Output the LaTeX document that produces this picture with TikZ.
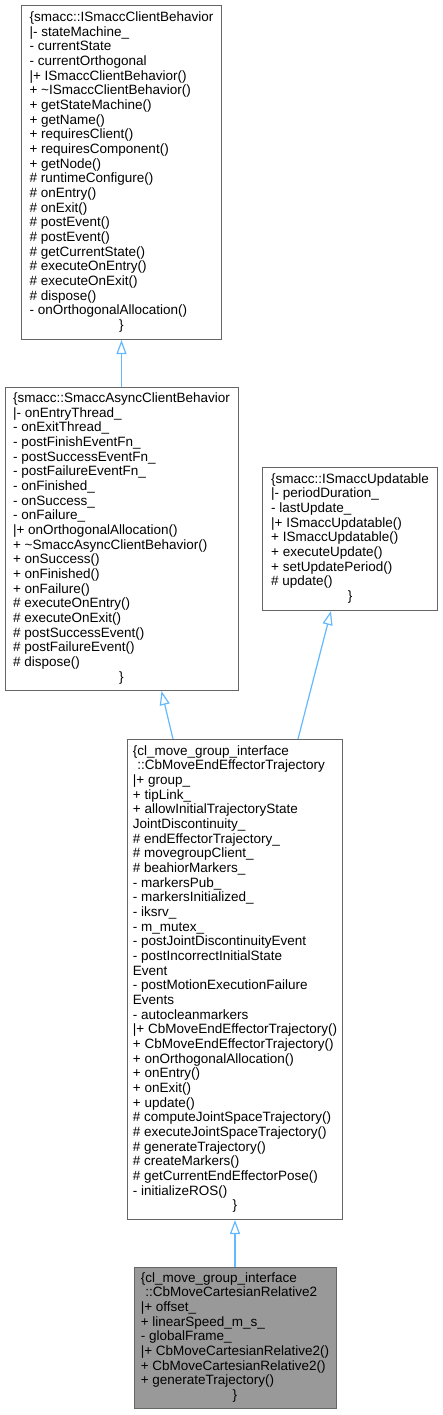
\documentclass[tikz,border=0pt]{standalone}
\usepackage{fontspec}
\setmainfont{Liberation Sans}
\usetikzlibrary{arrows.meta, positioning, calc}
\definecolor{edgegray}{HTML}{666666}
\definecolor{inherblue}{HTML}{63B8FF}
\definecolor{focusgray}{HTML}{999999}

% class member list, closing brace centred under it
\newcommand{\memberlist}[1]{\begin{tabular}{@{}l@{}}#1\\\multicolumn{1}{@{}c@{}}{\}}\end{tabular}}

\begin{document}
\begin{tikzpicture}[x=1pt, y=-1pt,
  every node/.style={font=\fontsize{13.5}{14.67}\selectfont},
  classbox/.style={draw=edgegray, line width=1pt, fill=white, inner sep=0pt, anchor=north west},
  inherit/.style={draw=inherblue, line width=1.2pt, -{Triangle[open, length=14pt, width=10pt]}}]
  \useasboundingbox (0,0) rectangle (442,1415);

  \node[classbox, minimum width=200, minimum height=334] (client) at (21,5) {\memberlist{%
    \{smacc::ISmaccClientBehavior\\
    |- stateMachine\_\\
    - currentState\\
    - currentOrthogonal\\
    |+ ISmaccClientBehavior()\\
    + \textasciitilde ISmaccClientBehavior()\\
    + getStateMachine()\\
    + getName()\\
    + requiresClient()\\
    + requiresComponent()\\
    + getNode()\\
    \# runtimeConfigure()\\
    \# onEntry()\\
    \# onExit()\\
    \# postEvent()\\
    \# postEvent()\\
    \# getCurrentState()\\
    \# executeOnEntry()\\
    \# executeOnExit()\\
    \# dispose()\\
    - onOrthogonalAllocation()}};

  \node[classbox, minimum width=233, minimum height=303] (async) at (4.5,387) {\memberlist{%
    \{smacc::SmaccAsyncClientBehavior\\
    |- onEntryThread\_\\
    - onExitThread\_\\
    - postFinishEventFn\_\\
    - postSuccessEventFn\_\\
    - postFailureEventFn\_\\
    - onFinished\_\\
    - onSuccess\_\\
    - onFailure\_\\
    |+ onOrthogonalAllocation()\\
    + \textasciitilde SmaccAsyncClientBehavior()\\
    + onSuccess()\\
    + onFinished()\\
    + onFailure()\\
    \# executeOnEntry()\\
    \# executeOnExit()\\
    \# postSuccessEvent()\\
    \# postFailureEvent()\\
    \# dispose()}};

  \node[classbox, minimum width=175, minimum height=143] (updatable) at (262,467) {\memberlist{%
    \{smacc::ISmaccUpdatable\\
    |- periodDuration\_\\
    - lastUpdate\_\\
    |+ ISmaccUpdatable()\\
    + ISmaccUpdatable()\\
    + executeUpdate()\\
    + setUpdatePeriod()\\
    \# update()}};

  \node[classbox, minimum width=215, minimum height=480] (cbeet) at (127,739) {\memberlist{%
    \{cl\_move\_group\_interface\\
    \hspace{4.5pt}::CbMoveEndEffectorTrajectory\\
    |+ group\_\\
    + tipLink\_\\
    + allowInitialTrajectoryState\\
    JointDiscontinuity\_\\
    \# endEffectorTrajectory\_\\
    \# movegroupClient\_\\
    \# beahiorMarkers\_\\
    - markersPub\_\\
    - markersInitialized\_\\
    - iksrv\_\\
    - m\_mutex\_\\
    - postJointDiscontinuityEvent\\
    - postIncorrectInitialState\\
    Event\\
    - postMotionExecutionFailure\\
    Events\\
    - autocleanmarkers\\
    |+ CbMoveEndEffectorTrajectory()\\
    + CbMoveEndEffectorTrajectory()\\
    + onOrthogonalAllocation()\\
    + onEntry()\\
    + onExit()\\
    + update()\\
    \# computeJointSpaceTrajectory()\\
    \# executeJointSpaceTrajectory()\\
    \# generateTrajectory()\\
    \# createMarkers()\\
    \# getCurrentEndEffectorPose()\\
    - initializeROS()}};

  \node[classbox, fill=focusgray, minimum width=202, minimum height=141.5] (cbmcr) at (133.5,1266.5) {\memberlist{%
    \{cl\_move\_group\_interface\\
    \hspace{4.5pt}::CbMoveCartesianRelative2\\
    |+ offset\_\\
    + linearSpeed\_m\_s\_\\
    - globalFrame\_\\
    |+ CbMoveCartesianRelative2()\\
    + CbMoveCartesianRelative2()\\
    + generateTrajectory()}};

  % inheritance arrows, pointing at the base class
  \draw[inherit] (async.north) -- (client.south);
  \draw[inherit] ($(cbeet.north)+(-62,0)$) -- ($(async.south)+(40,0)$);
  \draw[inherit] ($(cbeet.north)+(63,0)$) -- ($(updatable.south)+(-19,0)$);
  \draw[inherit] (cbmcr.north) -- (cbeet.south);
\end{tikzpicture}
\end{document}
